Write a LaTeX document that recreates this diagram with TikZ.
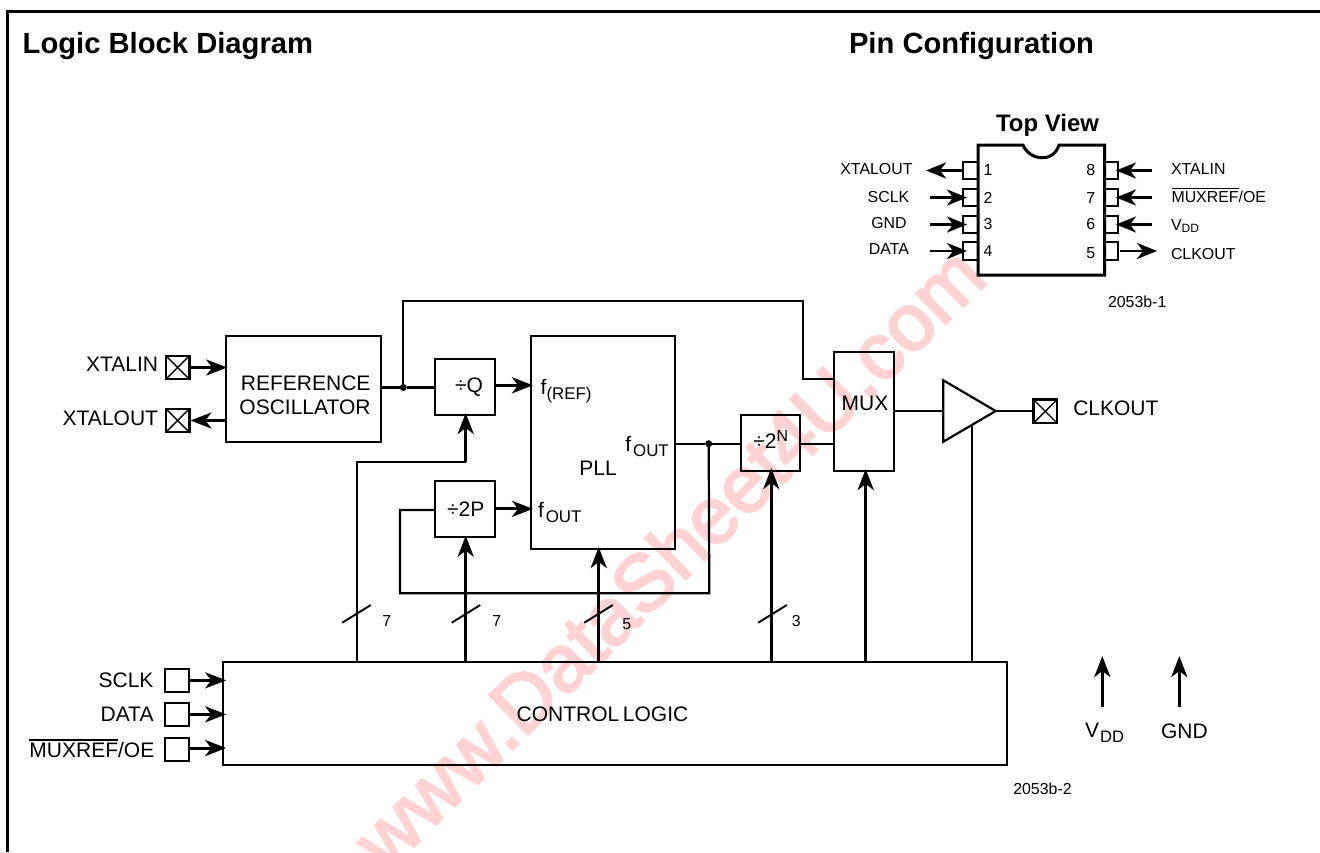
\documentclass[tikz,border=0pt]{standalone}
\usepackage{fontspec}
\setmainfont{Liberation Sans}
\newfontfamily\wmfont{Liberation Sans}[FakeBold=3]
\usetikzlibrary{arrows.meta}
\newcommand\ovlbar[1]{\leavevmode\begingroup\setbox0\hbox{#1}\rlap{\raise\dimexpr\ht0+0.13em\relax\hbox{\rule{\wd0}{1.3pt}}}\box0\endgroup}
\newcommand\fsub[3]{#1\kern#3pt\raisebox{-5pt}{\fontsize{16.9}{18}\selectfont #2}}
\tikzset{
  every node/.style={inner sep=0pt,outer sep=0pt},
  blk/.style={draw,line width=2.2pt},
  pad/.style={draw,line width=2.2pt,minimum width=23.5pt,minimum height=23.5pt},
  pin/.style={draw,line width=2.2pt,fill=white},
  wire/.style={line width=2.2pt},
  bus/.style={line width=3pt,-{Stealth[length=21pt,width=16pt,inset=6pt]}},
  pinarr/.style={line width=2.8pt,-{Stealth[length=20pt,width=16pt,inset=6pt]}},
  lab/.style={font=\fontsize{21}{24}\selectfont},
  sm/.style={font=\fontsize{15.9}{18}\selectfont},
  ttl/.style={font=\bfseries\fontsize{29.2}{32}\selectfont},
  wm/.style={font=\wmfont\fontsize{80}{84}\selectfont,text=wmred},
}
\definecolor{wmred}{HTML}{FFD3D3}
\begin{document}
\begin{tikzpicture}[x=1pt,y=-1pt]
\useasboundingbox (0,0) rectangle (1320,852);
\fill[white] (0,0) rectangle (1320,852);
% watermark
\node[wm,rotate=44.5,anchor=base west] (wmark) at (387,873) {www.DataSheet4U.com};
% frame
\coordinate (fa) at (1320,11.5);\coordinate (fb) at (7.5,11.5);\coordinate (fc) at (7.5,852);
\draw[line width=3pt] (fa) -- (fb) -- (fc);
\node[ttl,anchor=base west] (t1) at (22.7,53.2) {Logic Block Diagram};
\node[ttl,anchor=base west] (t2) at (849,53.2) {Pin Configuration};
% ---- pin diagram
\node[font=\bfseries\fontsize{23.9}{26}\selectfont,anchor=base] (tv) at (1047.5,131.2) {Top View};
\foreach \n/\y/\h in {1/170.5/17,2/197.5/17,3/224.5/17,4/251/18}
  \node[pin,minimum width=15pt,minimum height=\h pt] (pin\n) at (970.5,\y) {};
\foreach \n/\y/\h in {8/170.5/17,7/197.5/17,6/224.5/17,5/251/18}
  \node[pin,minimum width=13.5pt,minimum height=\h pt] (pin\n) at (1111.25,\y) {};
\coordinate (c1) at (978,145);\coordinate (c2) at (1023,145);\coordinate (c3) at (1059,145);
\coordinate (c4) at (1104.5,145);\coordinate (c5) at (1104.5,275);\coordinate (c6) at (978,275);
\draw[line width=3pt,line join=miter] (c2) .. controls (1029,160) and (1053,164) .. (c3) -- (c4) -- (c5) -- (c6) -- (c1) -- cycle;
\foreach \n/\t/\y in {1/1/175.5,2/2/203,3/3/229.5,4/4/256}
  \node[sm,anchor=base] (n\n) at (988,\y) {\t};
\foreach \n/\t/\y in {8/8/175.5,7/7/203,6/6/229.5,5/5/258.5}
  \node[sm,anchor=base] (n\n) at (1090.7,\y) {\t};
\draw[pinarr] (pin1.west) -- ([xshift=-37pt]pin1.west);
\draw[pinarr] ([xshift=-33pt]pin2.west) -- ([xshift=4pt]pin2.west);
\draw[pinarr] ([xshift=-33pt]pin3.west) -- ([xshift=4pt]pin3.west);
\draw[pinarr] ([xshift=-33pt]pin4.west) -- ([xshift=4pt]pin4.west);
\draw[pinarr] ([xshift=34pt]pin8.east) -- ([xshift=-2pt]pin8.east);
\draw[pinarr] ([xshift=34pt]pin7.east) -- ([xshift=-2pt]pin7.east);
\draw[pinarr] ([xshift=34pt]pin6.east) -- ([xshift=-2pt]pin6.east);
\draw[pinarr] ([xshift=2pt]pin5.east) -- ([xshift=39pt]pin5.east);
\node[sm,anchor=base east] (l1) at (912.5,174) {XTALOUT};
\node[sm,anchor=base] (l2) at (888.5,202) {SCLK};
\node[sm,anchor=base] (l3) at (889,228) {GND};
\node[sm,anchor=base] (l4) at (889,254) {DATA};
\node[sm,anchor=base west] (l8) at (1171,174) {XTALIN};
\node[sm,anchor=base west] (l7) at (1171.5,202) {\ovlbar{MUXREF}/OE};
\node[sm,anchor=base west] (l6) at (1171,230) {V\raisebox{-2pt}{\fontsize{12}{13}\selectfont DD}};
\node[sm,anchor=base west] (l5) at (1171,259) {CLKOUT};
\node[sm,anchor=base west] (code1) at (1108,307.5) {2053b-1};
% ---- blocks
\node[blk,minimum width=155.3pt,minimum height=106pt] (ref) at (303.35,389) {};
\node[lab,anchor=base] (reft) at (305.7,390) {REFERENCE};
\node[lab,anchor=base] (reft2) at (305,414) {OSCILLATOR};
\node[blk,minimum width=60pt,minimum height=56pt] (q) at (465,387) {};
\node[lab,anchor=base] (qt) at (469,392) {÷Q};
\node[blk,minimum width=60pt,minimum height=55.7pt] (p) at (465,508.85) {};
\node[lab,anchor=base] (pt) at (465.7,516.7) {÷2P};
\node[blk,minimum width=144pt,minimum height=213pt] (pll) at (603,442.5) {};
\node[lab,anchor=base] (pllt) at (598,475) {PLL};
\node[lab,anchor=base west] (f1) at (540.7,394) {\fsub{f}{(REF)}{0}};
\node[lab,anchor=base west] (f2) at (625.3,451) {\fsub{f}{OUT}{2}};
\node[lab,anchor=base west] (f3) at (538,517.5) {\fsub{f}{OUT}{2}};
\node[blk,minimum width=59.3pt,minimum height=56pt] (n) at (770.35,443) {};
\node[lab,anchor=base west] (nt) at (753.3,448) {÷2\raisebox{6.3pt}{\fontsize{16}{18}\selectfont N}};
\node[blk,minimum width=60pt,minimum height=119.3pt] (mux) at (864,411.35) {};
\node[lab,anchor=base] (muxt) at (865,410) {MUX};
\node[blk,minimum width=784.3pt,minimum height=103pt] (ctl) at (614.85,713.5) {};
\node[lab,anchor=base] (ctlt) at (602.5,721) {CONTROL\kern3.5pt LOGIC};
% buffer triangle
\coordinate (b1) at (943.3,380.3);\coordinate (b2) at (995.7,411);\coordinate (b3) at (943.3,441.7);
\coordinate (b4) at (972,424.8);
\draw[line width=2.2pt,line join=miter] (b1) -- (b2) -- (b3) -- cycle;
% pads
\node[pad] (pa) at (177.65,367.5) {};
\node[pad] (pb) at (177.65,420.5) {};
\node[pad] (pc) at (1045.3,411.3) {};
\foreach \k in {pa,pb,pc} {
  \draw[line width=1.4pt] (\k.north west) -- (\k.south east);
  \draw[line width=1.4pt] (\k.north east) -- (\k.south west);
}
\node[pad] (sa) at (176.85,680.35) {};
\node[pad] (sb) at (176.85,714.35) {};
\node[pad] (sc) at (176.85,749.35) {};
\node[lab,anchor=base east] (xi) at (158,371.7) {XTALIN};
\node[lab,anchor=base east] (xo) at (158,425) {XTALOUT};
\node[lab,anchor=base west] (ck) at (1073.3,415) {CLKOUT};
\node[lab,anchor=base east] (sl) at (153.5,687.7) {SCLK};
\node[lab,anchor=base east] (da) at (153.5,721) {DATA};
\node[lab,anchor=base east] (mo) at (154.3,757.7) {\ovlbar{MUXREF}/OE};
% connectors, left
\draw[bus] (pa.east) -- ([xshift=1.5pt]ref.west |- pa.east);
\draw[bus] (ref.west |- pb.east) -- ([xshift=1pt]pb.east);
\draw[bus] (sa.east) -- ([xshift=3.5pt]ctl.west |- sa.east);
\draw[bus] (sb.east) -- ([xshift=3.5pt]ctl.west |- sb.east);
\draw[bus] ([yshift=1.3pt]sc.east) -- ([xshift=3.5pt,yshift=1.3pt]ctl.west |- sc.east);
% reference to Q and MUX
\node[circle,fill,minimum size=7pt] (d1) at (403.3,387.5) {};
\coordinate (r1) at (403.3,301);\coordinate (r2) at (803.3,301);\coordinate (r3) at (803.3,379);
\draw[wire] (ref.east |- d1) -- (d1) -- (q.west |- d1);
\draw[wire,line join=miter] (d1) -- (r1) -- (r2) -- (r3) -- (mux.west |- r3);
\draw[bus] (q.east |- 0,385.3) -- ([xshift=2pt]pll.west |- 0,385.3);
\draw[bus] (p.east) -- ([xshift=2pt]pll.west |- p.east);
% control buses
\coordinate (qa) at (357.3,462);\coordinate (qb) at (465.7,462);
\draw[wire,line join=miter] (ctl.north -| qa) -- (qa) -- (qb);
\draw[bus] (qb) -- ([yshift=2pt]q.south -| qb);
\draw[bus] (ctl.north -| qb) -- ([yshift=1pt]p.south -| qb);
\coordinate (pl) at (598.7,600);
\draw[bus] (ctl.north -| pl) -- ([yshift=2pt]pll.south -| pl);
\coordinate (nb) at (771.3,600);
\draw[bus] (ctl.north -| nb) -- ([yshift=3pt]n.south -| nb);
\coordinate (mb) at (865.7,600);
\draw[bus] (ctl.north -| mb) -- ([yshift=2pt]mux.south -| mb);
\draw[wire] (ctl.north -| b4) -- (b4);
% PLL out and feedback
\node[circle,fill,minimum size=7pt] (d2) at (708.7,443.7) {};
\coordinate (f2a) at (709.3,593.3);\coordinate (f2b) at (400,593.3);\coordinate (f2c) at (400,510);
\draw[wire] (pll.east |- d2) -- (d2) -- (n.west |- d2);
\draw[wire,line join=miter] (d2) -- (f2a) -- (f2b) -- (f2c) -- (p.west |- f2c);
\draw[wire] (n.east |- d2) -- (mux.west |- d2);
\draw[wire] (mux.east |- b2) -- (b1 |- b2);
\draw[wire] (b2) -- (pc.west |- b2);
% slashes
\foreach \k/\x in {sa/342.3,sb/451.7,sc/584.3,sd/758.3} {
  \coordinate (\k0) at (\x,622.7);
  \coordinate (\k1) at (\x+28.5,605);
  \draw[line width=1.9pt] (\k0) -- (\k1);
}
\node[sm,anchor=base] (w1) at (386.7,626) {7};
\node[sm,anchor=base] (w2) at (496.7,626) {7};
\node[sm,anchor=base] (w3) at (626.7,629.3) {5};
\node[sm,anchor=base] (w4) at (796.3,626) {3};
% supply
\coordinate (vd) at (1102.3,706.7);\coordinate (ve) at (1102.3,656);
\coordinate (gd) at (1179.3,706.7);\coordinate (ge) at (1179.3,656);
\draw[bus] (vd) -- (ve);
\draw[bus] (gd) -- (ge);
\node[lab,anchor=base west] (vt) at (1085,737.7) {V\kern1pt\raisebox{-5pt}{\fontsize{16.6}{18}\selectfont DD}};
\node[lab,anchor=base west] (gt) at (1161,738.3) {GND};
\node[sm,anchor=base west] (code2) at (1013.3,794.3) {2053b-2};
\end{tikzpicture}
\end{document}
